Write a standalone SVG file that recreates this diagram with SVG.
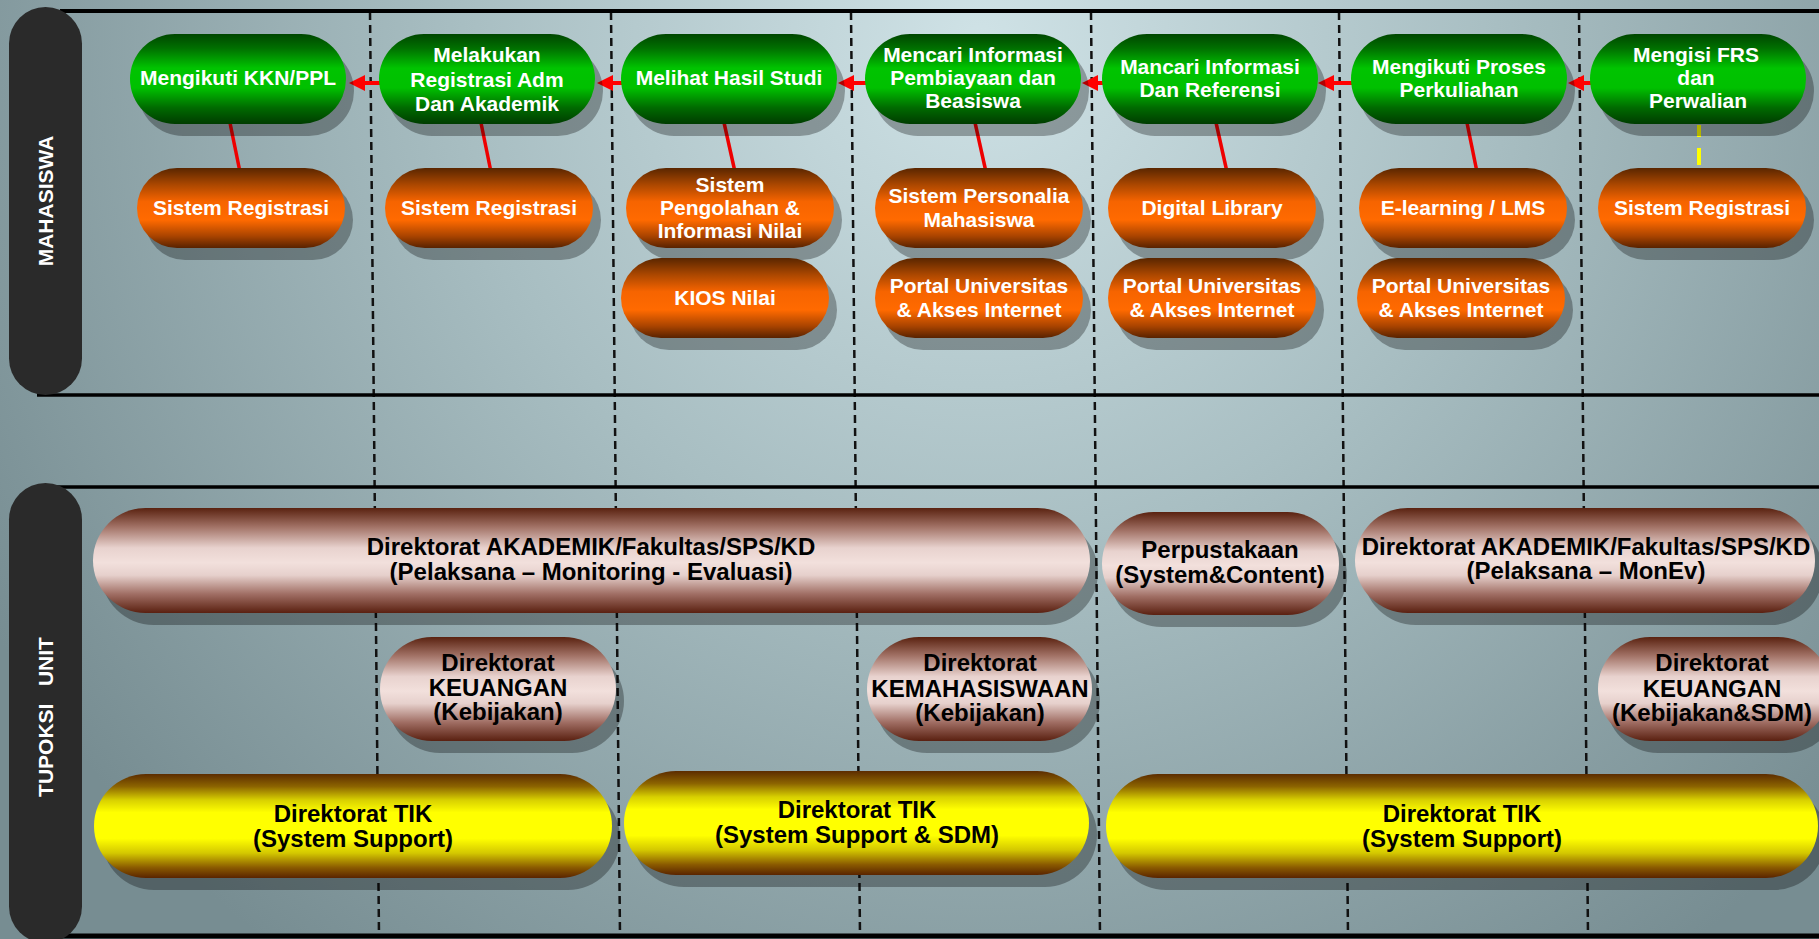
<svg xmlns="http://www.w3.org/2000/svg" width="1819" height="939" viewBox="0 0 1819 939">
<defs>
  <radialGradient id="bg" gradientUnits="userSpaceOnUse" cx="980" cy="40" r="1150">
    <stop offset="0" stop-color="#cfe2e6"/>
    <stop offset="0.45" stop-color="#a8bec2"/>
    <stop offset="1" stop-color="#778d92"/>
  </radialGradient>
  <linearGradient id="gGreen" x1="0" y1="0" x2="0" y2="1">
    <stop offset="0" stop-color="#004600"/>
    <stop offset="0.16" stop-color="#007000"/>
    <stop offset="0.38" stop-color="#00c400"/>
    <stop offset="0.6" stop-color="#00c000"/>
    <stop offset="0.82" stop-color="#006a00"/>
    <stop offset="1" stop-color="#003c00"/>
  </linearGradient>
  <linearGradient id="gOrange" x1="0" y1="0" x2="0" y2="1">
    <stop offset="0" stop-color="#5a2600"/>
    <stop offset="0.2" stop-color="#a84600"/>
    <stop offset="0.42" stop-color="#f66400"/>
    <stop offset="0.65" stop-color="#ff6a00"/>
    <stop offset="0.85" stop-color="#aa4400"/>
    <stop offset="1" stop-color="#582200"/>
  </linearGradient>
  <linearGradient id="gPink" x1="0" y1="0" x2="0" y2="1">
    <stop offset="0" stop-color="#5a2210"/>
    <stop offset="0.18" stop-color="#a27266"/>
    <stop offset="0.38" stop-color="#e8d2ce"/>
    <stop offset="0.52" stop-color="#f2e0dc"/>
    <stop offset="0.64" stop-color="#e6d0cc"/>
    <stop offset="0.82" stop-color="#a06e64"/>
    <stop offset="1" stop-color="#5a2010"/>
  </linearGradient>
  <linearGradient id="gYellow" x1="0" y1="0" x2="0" y2="1">
    <stop offset="0" stop-color="#5c2c00"/>
    <stop offset="0.12" stop-color="#8c6400"/>
    <stop offset="0.25" stop-color="#d8d000"/>
    <stop offset="0.37" stop-color="#ffff00"/>
    <stop offset="0.62" stop-color="#ffff00"/>
    <stop offset="0.76" stop-color="#d4c800"/>
    <stop offset="0.9" stop-color="#8a5a00"/>
    <stop offset="1" stop-color="#5a2400"/>
  </linearGradient>
  <marker id="ah" markerUnits="userSpaceOnUse" markerWidth="16" markerHeight="16" refX="0" refY="8" orient="auto">
    <path d="M0,0 L16,8 L0,16 z" fill="#ff0000"/>
  </marker>
</defs>
<style>
  .sh{fill:#000;opacity:.3}
  .gr{fill:url(#gGreen)}
  .or{fill:url(#gOrange)}
  .pk{fill:url(#gPink)}
  .ye{fill:url(#gYellow)}
  text{font-family:"Liberation Sans",Arial,Helvetica,sans-serif;font-weight:bold;text-anchor:middle}
  .tw{fill:#fff;font-size:21px}
  .tb{fill:#000;font-size:24px}
  .lane{fill:#fff;font-size:21px;white-space:pre}
  .dash{stroke:#111;stroke-width:2.5;stroke-dasharray:8 5;fill:none}
  .hl{stroke:#000;stroke-width:4}
  .bar{fill:#2a2a2a}
  .con{stroke:#ee0000;stroke-width:3.5}
  .arr{stroke:#ff0000;stroke-width:4}
  .ycon{stroke:#ffff00;stroke-width:4;stroke-dasharray:12 11 17 40}
</style>

<rect id="background" x="0" y="0" width="1819" height="939" fill="url(#bg)"/>

<g id="dividers">
  <line class="dash" x1="370" y1="12" x2="379" y2="936"/>
  <line class="dash" x1="611" y1="12" x2="620" y2="936"/>
  <line class="dash" x1="851" y1="12" x2="860" y2="936"/>
  <line class="dash" x1="1091" y1="12" x2="1100" y2="936"/>
  <line class="dash" x1="1339" y1="12" x2="1348" y2="936"/>
  <line class="dash" x1="1579" y1="12" x2="1588" y2="936"/>
</g>

<g id="lane-lines">
  <line class="hl" x1="60" y1="11" x2="1819" y2="11"/>
  <line class="hl" x1="37" y1="395" x2="1819" y2="395" style="stroke-width:3.5"/>
  <line class="hl" x1="50" y1="487" x2="1819" y2="487" style="stroke-width:3.5"/>
  <line class="hl" x1="60" y1="936" x2="1819" y2="936" style="stroke-width:5"/>
</g>

<g id="lane-mahasiswa">
  <rect class="bar" x="9" y="7" width="73" height="388" rx="36.5"/>
  <text class="lane" transform="translate(53,201) rotate(-90)">MAHASISWA</text>
</g>
<g id="lane-tupoksi">
  <rect class="bar" x="9" y="483" width="73" height="460" rx="36.5"/>
  <text class="lane" transform="translate(53,717) rotate(-90)">TUPOKSI   UNIT</text>
</g>

<g id="connectors">
  <line class="con" x1="229" y1="118" x2="240" y2="172"/>
  <line class="con" x1="480" y1="118" x2="491" y2="172"/>
  <line class="con" x1="723" y1="118" x2="735" y2="172"/>
  <line class="con" x1="974" y1="118" x2="986" y2="172"/>
  <line class="con" x1="1215" y1="118" x2="1227" y2="172"/>
  <line class="con" x1="1466" y1="118" x2="1477" y2="172"/>
  <line class="ycon" x1="1699" y1="125" x2="1699" y2="165"/>
  <line class="arr" x1="389" y1="83" x2="365" y2="83" marker-end="url(#ah)"/>
  <line class="arr" x1="631" y1="83" x2="613" y2="83" marker-end="url(#ah)"/>
  <line class="arr" x1="875" y1="83" x2="854" y2="83" marker-end="url(#ah)"/>
  <line class="arr" x1="1112" y1="83" x2="1098" y2="83" marker-end="url(#ah)"/>
  <line class="arr" x1="1361" y1="83" x2="1334" y2="83" marker-end="url(#ah)"/>
  <line class="arr" x1="1600" y1="83" x2="1584" y2="83" marker-end="url(#ah)"/>
</g>

<!-- Green activity nodes -->
<g id="g1"><rect class="sh" x="138" y="46" width="216" height="90" rx="45"/><rect class="gr" x="130" y="34" width="216" height="90" rx="45"/>
  <text class="tw" x="238" y="85">Mengikuti KKN/PPL</text></g>
<g id="g2"><rect class="sh" x="387" y="46" width="216" height="90" rx="45"/><rect class="gr" x="379" y="34" width="216" height="90" rx="45"/>
  <text class="tw"><tspan x="487" y="62">Melakukan</tspan><tspan x="487" y="87">Registrasi Adm</tspan><tspan x="487" y="111">Dan Akademik</tspan></text></g>
<g id="g3"><rect class="sh" x="629" y="46" width="216" height="90" rx="45"/><rect class="gr" x="621" y="34" width="216" height="90" rx="45"/>
  <text class="tw" x="729" y="85">Melihat Hasil Studi</text></g>
<g id="g4"><rect class="sh" x="873" y="46" width="216" height="90" rx="45"/><rect class="gr" x="865" y="34" width="216" height="90" rx="45"/>
  <text class="tw"><tspan x="973" y="62">Mencari Informasi</tspan><tspan x="973" y="85">Pembiayaan dan</tspan><tspan x="973" y="108">Beasiswa</tspan></text></g>
<g id="g5"><rect class="sh" x="1110" y="46" width="216" height="90" rx="45"/><rect class="gr" x="1102" y="34" width="216" height="90" rx="45"/>
  <text class="tw"><tspan x="1210" y="74">Mancari Informasi</tspan><tspan x="1210" y="97">Dan Referensi</tspan></text></g>
<g id="g6"><rect class="sh" x="1359" y="46" width="216" height="90" rx="45"/><rect class="gr" x="1351" y="34" width="216" height="90" rx="45"/>
  <text class="tw"><tspan x="1459" y="74">Mengikuti Proses</tspan><tspan x="1459" y="97">Perkuliahan</tspan></text></g>
<g id="g7"><rect class="sh" x="1598" y="46" width="216" height="90" rx="45"/><rect class="gr" x="1590" y="34" width="216" height="90" rx="45"/>
  <text class="tw"><tspan x="1696" y="62">Mengisi FRS</tspan><tspan x="1696" y="85">dan</tspan><tspan x="1698" y="108">Perwalian</tspan></text></g>

<!-- Orange system nodes -->
<g id="o1"><rect class="sh" x="145" y="180" width="208" height="80" rx="40"/><rect class="or" x="137" y="168" width="208" height="80" rx="40"/>
  <text class="tw" x="241" y="215">Sistem Registrasi</text></g>
<g id="o2"><rect class="sh" x="393" y="180" width="208" height="80" rx="40"/><rect class="or" x="385" y="168" width="208" height="80" rx="40"/>
  <text class="tw" x="489" y="215">Sistem Registrasi</text></g>
<g id="o3"><rect class="sh" x="634" y="180" width="208" height="80" rx="40"/><rect class="or" x="626" y="168" width="208" height="80" rx="40"/>
  <text class="tw"><tspan x="730" y="192">Sistem</tspan><tspan x="730" y="215">Pengolahan &amp;</tspan><tspan x="730" y="238">Informasi Nilai</tspan></text></g>
<g id="o4"><rect class="sh" x="883" y="180" width="208" height="80" rx="40"/><rect class="or" x="875" y="168" width="208" height="80" rx="40"/>
  <text class="tw"><tspan x="979" y="203">Sistem Personalia</tspan><tspan x="979" y="227">Mahasiswa</tspan></text></g>
<g id="o5"><rect class="sh" x="1116" y="180" width="208" height="80" rx="40"/><rect class="or" x="1108" y="168" width="208" height="80" rx="40"/>
  <text class="tw" x="1212" y="215">Digital Library</text></g>
<g id="o6"><rect class="sh" x="1367" y="180" width="208" height="80" rx="40"/><rect class="or" x="1359" y="168" width="208" height="80" rx="40"/>
  <text class="tw" x="1463" y="215">E-learning / LMS</text></g>
<g id="o7"><rect class="sh" x="1606" y="180" width="208" height="80" rx="40"/><rect class="or" x="1598" y="168" width="208" height="80" rx="40"/>
  <text class="tw" x="1702" y="215">Sistem Registrasi</text></g>
<g id="o8"><rect class="sh" x="629" y="270" width="208" height="80" rx="40"/><rect class="or" x="621" y="258" width="208" height="80" rx="40"/>
  <text class="tw" x="725" y="305">KIOS Nilai</text></g>
<g id="o9"><rect class="sh" x="883" y="270" width="208" height="80" rx="40"/><rect class="or" x="875" y="258" width="208" height="80" rx="40"/>
  <text class="tw"><tspan x="979" y="293">Portal Universitas</tspan><tspan x="979" y="317">&amp; Akses Internet</tspan></text></g>
<g id="o10"><rect class="sh" x="1116" y="270" width="208" height="80" rx="40"/><rect class="or" x="1108" y="258" width="208" height="80" rx="40"/>
  <text class="tw"><tspan x="1212" y="293">Portal Universitas</tspan><tspan x="1212" y="317">&amp; Akses Internet</tspan></text></g>
<g id="o11"><rect class="sh" x="1365" y="270" width="208" height="80" rx="40"/><rect class="or" x="1357" y="258" width="208" height="80" rx="40"/>
  <text class="tw"><tspan x="1461" y="293">Portal Universitas</tspan><tspan x="1461" y="317">&amp; Akses Internet</tspan></text></g>

<!-- Pink unit nodes -->
<g id="p1"><rect class="sh" x="101" y="520" width="997" height="105" rx="52.5"/><rect class="pk" x="93" y="508" width="997" height="105" rx="52.5"/>
  <text class="tb"><tspan x="591" y="555">Direktorat AKADEMIK/Fakultas/SPS/KD</tspan><tspan x="591" y="580">(Pelaksana – Monitoring - Evaluasi)</tspan></text></g>
<g id="p2"><rect class="sh" x="1110" y="524" width="237" height="103" rx="51.5"/><rect class="pk" x="1102" y="512" width="237" height="103" rx="51.5"/>
  <text class="tb"><tspan x="1220" y="558">Perpustakaan</tspan><tspan x="1220" y="583">(System&amp;Content)</tspan></text></g>
<g id="p3"><rect class="sh" x="1363" y="520" width="460" height="105" rx="52.5"/><rect class="pk" x="1355" y="508" width="460" height="105" rx="52.5"/>
  <text class="tb"><tspan x="1586" y="555">Direktorat AKADEMIK/Fakultas/SPS/KD</tspan><tspan x="1586" y="579">(Pelaksana – MonEv)</tspan></text></g>
<g id="p4"><rect class="sh" x="388" y="649" width="236" height="104" rx="52"/><rect class="pk" x="380" y="637" width="236" height="104" rx="52"/>
  <text class="tb"><tspan x="498" y="671">Direktorat</tspan><tspan x="498" y="696">KEUANGAN</tspan><tspan x="498" y="720">(Kebijakan)</tspan></text></g>
<g id="p5"><rect class="sh" x="875" y="649" width="225" height="104" rx="52"/><rect class="pk" x="867" y="637" width="225" height="104" rx="52"/>
  <text class="tb"><tspan x="980" y="671">Direktorat</tspan><tspan x="980" y="697">KEMAHASISWAAN</tspan><tspan x="980" y="721">(Kebijakan)</tspan></text></g>
<g id="p6"><rect class="sh" x="1606" y="649" width="232" height="104" rx="52"/><rect class="pk" x="1598" y="637" width="232" height="104" rx="52"/>
  <text class="tb"><tspan x="1712" y="671">Direktorat</tspan><tspan x="1712" y="697">KEUANGAN</tspan><tspan x="1712" y="721">(Kebijakan&amp;SDM)</tspan></text></g>

<!-- Yellow TIK nodes -->
<g id="y1"><rect class="sh" x="102" y="786" width="518" height="104" rx="52"/><rect class="ye" x="94" y="774" width="518" height="104" rx="52"/>
  <text class="tb"><tspan x="353" y="822">Direktorat TIK</tspan><tspan x="353" y="847">(System Support)</tspan></text></g>
<g id="y2"><rect class="sh" x="632" y="783" width="465" height="104" rx="52"/><rect class="ye" x="624" y="771" width="465" height="104" rx="52"/>
  <text class="tb"><tspan x="857" y="818">Direktorat TIK</tspan><tspan x="857" y="843">(System Support &amp; SDM)</tspan></text></g>
<g id="y3"><rect class="sh" x="1114" y="786" width="712" height="104" rx="52"/><rect class="ye" x="1106" y="774" width="712" height="104" rx="52"/>
  <text class="tb"><tspan x="1462" y="822">Direktorat TIK</tspan><tspan x="1462" y="847">(System Support)</tspan></text></g>
</svg>
